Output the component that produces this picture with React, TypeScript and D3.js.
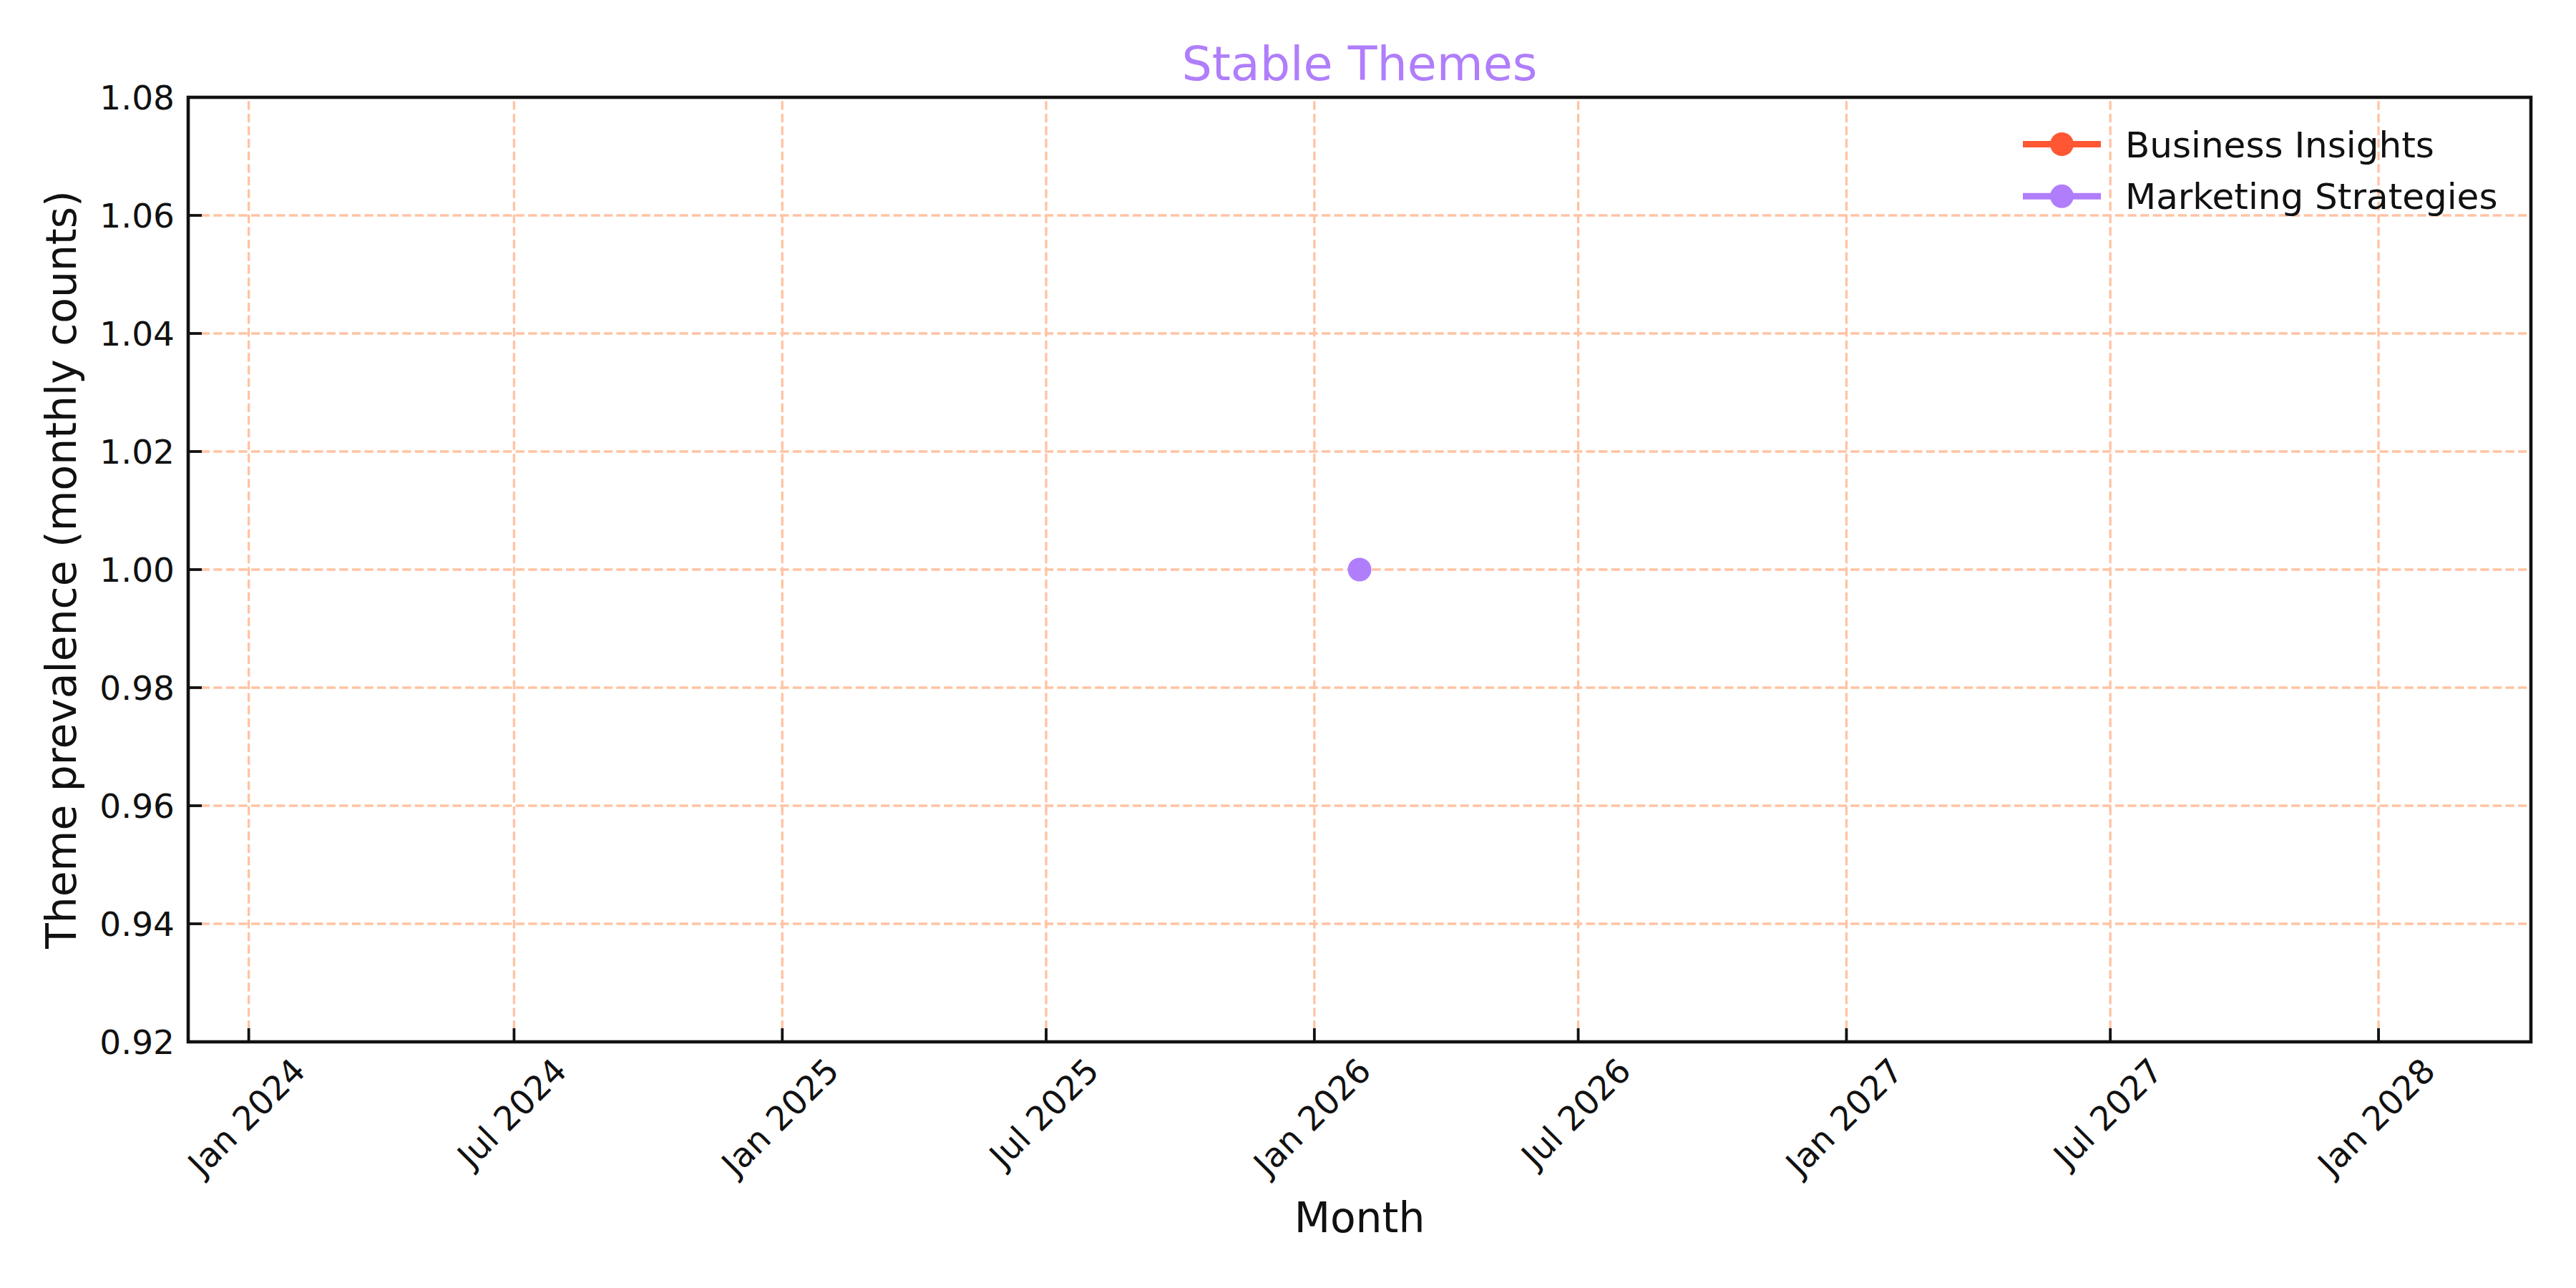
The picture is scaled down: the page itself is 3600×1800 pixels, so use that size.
import React, { useEffect, useRef } from 'react';
import * as d3 from 'd3';

// ---- data ----
const seriesNames = ['Business Insights', 'Marketing Strategies'];
const seriesColors = ['#FF5733', '#B07EFB'];
const businessInsightsMonths: string[] = [];
const businessInsightsValues: number[] = [];
const marketingStrategiesMonths = ['2026-02-01'];
const marketingStrategiesValues = [1];
const xDomain = ['2023-11-20T11:00:00Z', '2028-04-14T13:00:00Z'];
const xTickDates = [
  '2024-01-01', '2024-07-01', '2025-01-01', '2025-07-01', '2026-01-01',
  '2026-07-01', '2027-01-01', '2027-07-01', '2028-01-01',
];
const yDomain = [0.92, 1.08];
const yTicks = [0.92, 0.94, 0.96, 0.98, 1.0, 1.02, 1.04, 1.06, 1.08];
const titleText = 'Stable Themes';
const xLabelText = 'Month';
const yLabelText = 'Theme prevalence (monthly counts)';

const W = 3600;
const H = 1800;
const L = 263, R = 3537, T = 136, B = 1456;
const FONT = "'DejaVu Sans', sans-serif";
const INK = '#111111';
const GRID = '#FFC3A3';

export default function App() {
  const ref = useRef<SVGSVGElement | null>(null);

  useEffect(() => {
    document.body.style.margin = '0';
    const svg = d3.select(ref.current);
    svg.selectAll('*').remove();

    const x = d3.scaleUtc().domain(xDomain.map((d) => new Date(d))).range([L, R]);
    const y = d3.scaleLinear().domain(yDomain).range([B, T]);
    const fmt = d3.utcFormat('%b %Y');
    const xt = xTickDates.map((d) => new Date(d + 'T00:00:00Z'));

    svg.append('rect').attr('x', 0).attr('y', 0).attr('width', W).attr('height', H).attr('fill', '#fff');

    // grid
    const grid = svg.append('g').attr('stroke', GRID).attr('stroke-width', 3.3).attr('stroke-dasharray', '12.3,5.3').attr('fill', 'none');
    xt.forEach((d) => {
      grid.append('line').attr('x1', x(d)).attr('x2', x(d)).attr('y1', B).attr('y2', T);
    });
    yTicks.forEach((v) => {
      grid.append('line').attr('x1', L).attr('x2', R).attr('y1', y(v)).attr('y2', y(v));
    });

    // series
    const series = [
      { months: businessInsightsMonths, values: businessInsightsValues },
      { months: marketingStrategiesMonths, values: marketingStrategiesValues },
    ];
    series.forEach((s, i) => {
      const pts = s.months.map((m, k) => ({ d: new Date(m + 'T00:00:00Z'), v: s.values[k] }));
      const line = d3.line<{ d: Date; v: number }>().x((p) => x(p.d)).y((p) => y(p.v));
      if (pts.length > 1) {
        svg.append('path').attr('d', line(pts) as string).attr('fill', 'none')
          .attr('stroke', seriesColors[i]).attr('stroke-width', 9);
      }
      svg.append('g').selectAll('circle').data(pts).join('circle')
        .attr('cx', (p) => x(p.d)).attr('cy', (p) => y(p.v)).attr('r', 16.5)
        .attr('fill', seriesColors[i]);
    });

    // spines
    svg.append('rect').attr('x', L).attr('y', T).attr('width', R - L).attr('height', B - T)
      .attr('fill', 'none').attr('stroke', INK).attr('stroke-width', 4.6);

    // ticks
    const ticks = svg.append('g').attr('stroke', INK).attr('stroke-width', 3.8);
    xt.forEach((d) => {
      ticks.append('line').attr('x1', x(d)).attr('x2', x(d)).attr('y1', B).attr('y2', B - 19);
    });
    yTicks.forEach((v) => {
      ticks.append('line').attr('x1', L).attr('x2', L + 19).attr('y1', y(v)).attr('y2', y(v));
    });

    // y tick labels
    yTicks.forEach((v) => {
      svg.append('text').attr('x', 244).attr('y', y(v) + 17.1).attr('text-anchor', 'end')
        .attr('font-family', FONT).attr('font-size', 47).attr('fill', INK).text(v.toFixed(2));
    });

    // x tick labels (rotated 45, bbox centered on tick)
    const fs = 47;
    xt.forEach((d) => {
      const t = svg.append('text').attr('font-family', FONT).attr('font-size', fs).attr('fill', INK)
        .attr('text-anchor', 'middle').text(fmt(d));
      const w = (t.node() as SVGTextElement).getComputedTextLength();
      const h = fs * 1.0;
      const side = (w + h) / Math.SQRT2;
      const cx = x(d);
      const cy = 1474 + side / 2;
      t.attr('transform', `translate(${cx},${cy}) rotate(-45)`).attr('y', fs * 0.26);
    });

    // axis labels
    svg.append('text').attr('x', (L + R) / 2).attr('y', 1722).attr('text-anchor', 'middle')
      .attr('font-family', FONT).attr('font-size', 58.3).attr('fill', INK).text(xLabelText);
    svg.append('text').attr('transform', `translate(106,${(T + B) / 2}) rotate(-90)`).attr('text-anchor', 'middle')
      .attr('font-family', FONT).attr('font-size', 58.3).attr('fill', INK).text(yLabelText);

    // title
    svg.append('text').attr('x', (L + R) / 2).attr('y', 112).attr('text-anchor', 'middle')
      .attr('font-family', FONT).attr('font-size', 66.7).attr('fill', seriesColors[1]).text(titleText);

    // legend
    seriesNames.forEach((name, i) => {
      const cy = 201.5 + i * 72.8;
      svg.append('line').attr('x1', 2827).attr('x2', 2936).attr('y1', cy).attr('y2', cy)
        .attr('stroke', seriesColors[i]).attr('stroke-width', 9);
      svg.append('circle').attr('cx', 2881.5).attr('cy', cy).attr('r', 16.5).attr('fill', seriesColors[i]);
      svg.append('text').attr('x', 2970).attr('y', cy + 18).attr('font-family', FONT)
        .attr('font-size', 50).attr('fill', INK).text(name);
    });
  }, []);

  return <svg ref={ref} width={W} height={H} style={{ display: 'block' }} />;
}
